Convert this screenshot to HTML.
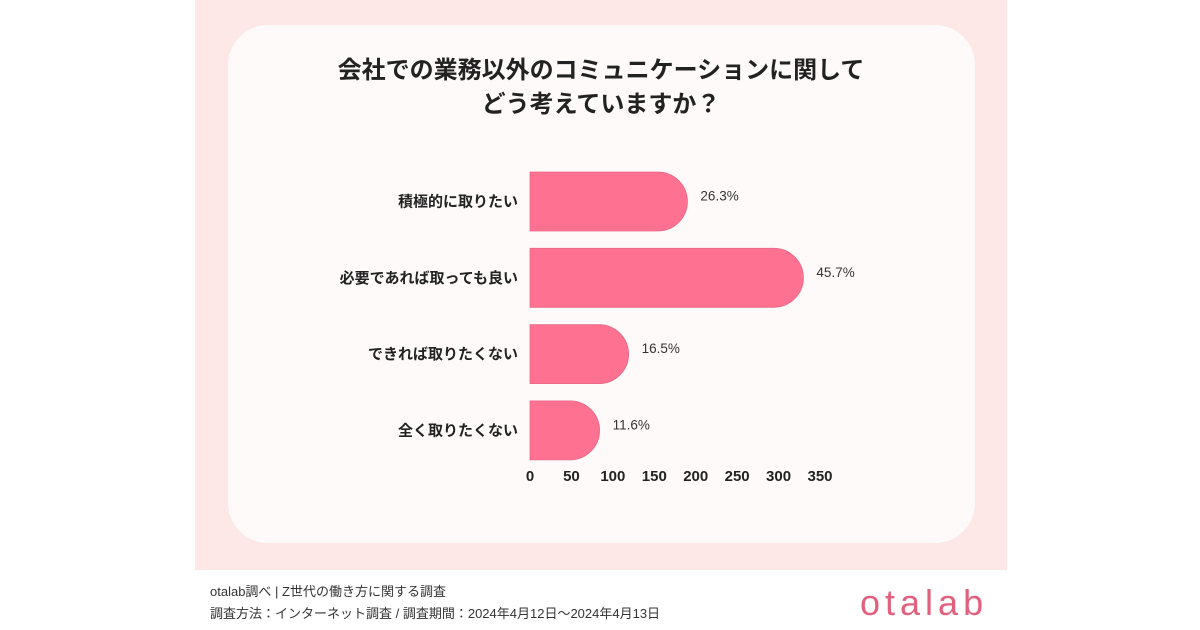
<!DOCTYPE html>
<html><head><meta charset="utf-8"><style>
body{margin:0;width:1200px;height:630px;background:#fff;font-family:"Liberation Sans","Noto Sans CJK JP",sans-serif;position:relative;overflow:hidden}
#bg{position:absolute;left:195px;top:0;width:812px;height:570px;background:#fde7e7}
#card{position:absolute;left:228px;top:25px;width:747px;height:518px;background:#fffafa;border-radius:40px}
#title{position:absolute;left:195px;width:812px;top:54px;text-align:center;font-weight:bold;font-size:24px;line-height:34px;color:#222}
.ft{position:absolute;left:210px;font-size:13px;color:#333}
#logo{position:absolute;left:860px;top:582px;font-size:36px;color:#e0607e;letter-spacing:5px}
</style></head><body>
<div id="bg"></div>
<div id="card"></div>
<div id="title">会社での業務以外のコミュニケーションに関して<br>どう考えていますか？</div>
<svg id="chart" width="1200" height="630" style="position:absolute;left:0;top:0"></svg>
<div class="ft" style="top:581px">otalab調べ | Z世代の働き方に関する調査</div>
<div class="ft" style="top:603px">調査方法：インターネット調査 / 調査期間：2024年4月12日〜2024年4月13日</div>
<div id="logo">otalab</div>
<script>
const categories=["積極的に取りたい","必要であれば取っても良い","できれば取りたくない","全く取りたくない"];
const values=[190,330,119,84];
const pctLabels=["26.3%","45.7%","16.5%","11.6%"];
const ticks=[0,50,100,150,200,250,300,350];
const svg=document.getElementById('chart');
const NS="http://www.w3.org/2000/svg";
const x0=530,x1=820,vmax=350;
const xs=v=>x0+(x1-x0)*v/vmax;
const bandTop=172,bandStep=76.3,barH=59;
const ys=i=>bandTop+i*bandStep;
function mk(t,a){const e=document.createElementNS(NS,t);for(const k in a)e.setAttribute(k,a[k]);svg.appendChild(e);return e;}
categories.forEach((c,i)=>{
 const y=ys(i),w=xs(values[i])-x0,r=Math.min(barH/2,w);
 const p=mk('path',{d:`M${x0},${y}H${x0+w-r}A${r},${barH/2} 0 0 1 ${x0+w-r},${y+barH}H${x0}Z`,fill:'#ff7191',stroke:'#e66a88','stroke-width':0.8});
 
 
 const l=mk('text',{x:518,y:y+barH/2+5,'text-anchor':'end','font-size':15,'font-weight':'bold',fill:'#222'});
 l.textContent=c;
 
 
 const v=mk('text',{x:xs(values[i])+13,y:y+barH/2-1,'font-size':13.5,fill:'#333'});
 v.textContent=pctLabels[i];
 
 
});
ticks.forEach(t=>{
 const e=mk('text',{x:xs(t),y:481,'text-anchor':'middle','font-size':15,'font-weight':'bold',fill:'#222'});
 e.textContent=t;
 
 
});
</script>
</body></html>
